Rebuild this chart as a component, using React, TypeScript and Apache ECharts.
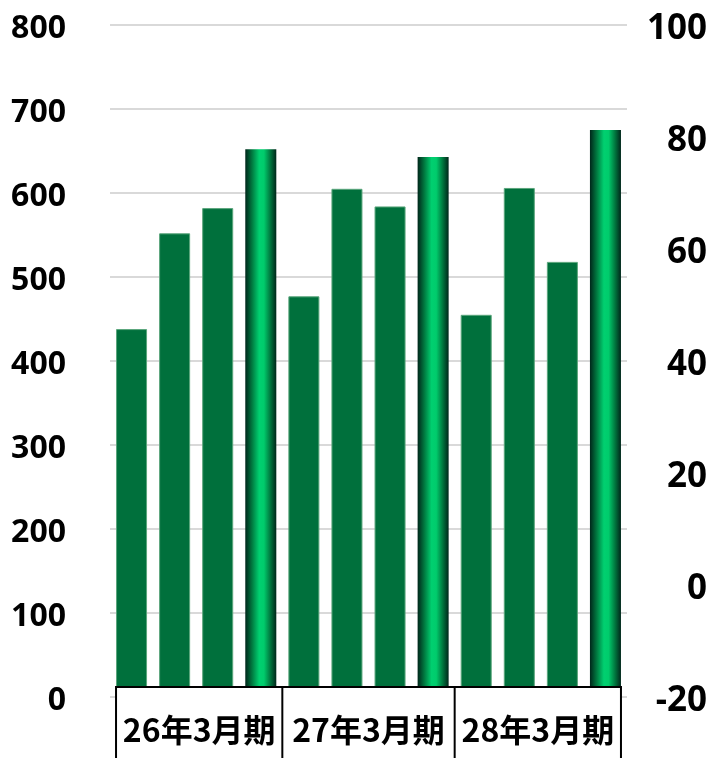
import React, { useEffect, useRef } from "react";
import * as echarts from "echarts";

const categories = ["1", "2", "3", "4", "5", "6", "7", "8", "9", "10", "11", "12"];
const values = [438, 552, 582, 652, 477, 605, 584, 643, 455, 606, 518, 675];
const highlighted = [false, false, false, true, false, false, false, true, false, false, false, true];
const groupLabels = ["26年3月期", "27年3月期", "28年3月期"];
const groupSize = 4;
const leftTicks = { min: 0, max: 800, interval: 100 };
const rightTicks = { min: -20, max: 100, interval: 20 };

export default function App() {
  const ref = useRef<HTMLDivElement>(null);
  useEffect(() => {
    if (!ref.current) return;
    const chart = echarts.init(ref.current, null, { renderer: "svg" });
    const grad = new echarts.graphic.LinearGradient(0, 0, 1, 0, [
      { offset: 0, color: "#00261a" },
      { offset: 0.22, color: "#007a40" },
      { offset: 0.45, color: "#00d070" },
      { offset: 0.6, color: "#00cc6c" },
      { offset: 0.8, color: "#007a40" },
      { offset: 1, color: "#00261a" },
    ]);
    chart.setOption({
      animation: false,
      grid: { left: 110, right: 85, top: 25, bottom: 61, containLabel: false },
      xAxis: {
        type: "category",
        data: categories,
        axisLine: { show: false },
        axisTick: { show: false },
        axisLabel: { show: false },
      },
      yAxis: [
        {
          type: "value",
          ...leftTicks,
          axisLine: { show: false },
          axisTick: { show: false },
          splitLine: { lineStyle: { color: "#d9d9d9", width: 2 } },
          axisLabel: {
            margin: 44,
            color: "#000",
            fontSize: 32,
            fontWeight: "bold",
            fontFamily: "Open Sans",
          },
        },
        {
          type: "value",
          ...rightTicks,
          position: "right",
          axisLine: { show: false },
          axisTick: { show: false },
          splitLine: { show: false },
          axisLabel: {
            margin: 80,
            align: "right",
            color: "#000",
            fontSize: 35,
            fontWeight: "bold",
            fontFamily: "Open Sans",
          },
        },
      ],
      series: [
        {
          type: "bar",
          barCategoryGap: "28%",
          data: values.map((v, i) => ({
            value: v,
            itemStyle: highlighted[i]
              ? { color: grad, borderWidth: 0 }
              : { color: "#00703c", borderColor: "#5aa67c", borderWidth: 1 },
          })),
        },
      ],
    });

    const p0 = chart.convertToPixel({ xAxisIndex: 0 }, 0) as number;
    const p1 = chart.convertToPixel({ xAxisIndex: 0 }, 1) as number;
    const band = p1 - p0;
    const barW = band * 0.72;
    const zeroY = chart.convertToPixel({ yAxisIndex: 0 }, 0) as number;
    const top = zeroY - 10;
    const left = p0 - barW / 2;
    const lastC = chart.convertToPixel({ xAxisIndex: 0 }, categories.length - 1) as number;
    const right = lastC + barW / 2;
    const elements: any[] = [
      {
        type: "rect",
        z: 100,
        shape: { x: left, y: top, width: right - left, height: 100 },
        style: { fill: "#fff", stroke: "#000", lineWidth: 2 },
      },
    ];
    groupLabels.forEach((g, gi) => {
      const start = (chart.convertToPixel({ xAxisIndex: 0 }, gi * groupSize) as number) - band / 2;
      const end = (chart.convertToPixel({ xAxisIndex: 0 }, gi * groupSize + groupSize - 1) as number) + band / 2;
      const l = gi === 0 ? left : start;
      const r = gi === groupLabels.length - 1 ? right : end;
      if (gi > 0) {
        elements.push({
          type: "line",
          z: 101,
          shape: { x1: start, y1: top, x2: start, y2: top + 100 },
          style: { stroke: "#000", lineWidth: 2 },
        });
      }
      elements.push({
        type: "text",
        z: 101,
        x: (l + r) / 2,
        y: top + 41,
        style: {
          text: g,
          fill: "#000",
          font: "bold 32px 'Noto Sans CJK JP'",
          align: "center",
          verticalAlign: "middle",
        },
      });
    });
    chart.setOption({ graphic: { elements } });
    return () => chart.dispose();
  }, []);
  return (
    <div
      ref={ref}
      style={{ width: 712, height: 758, position: "fixed", left: 0, top: 0 }}
    />
  );
}
